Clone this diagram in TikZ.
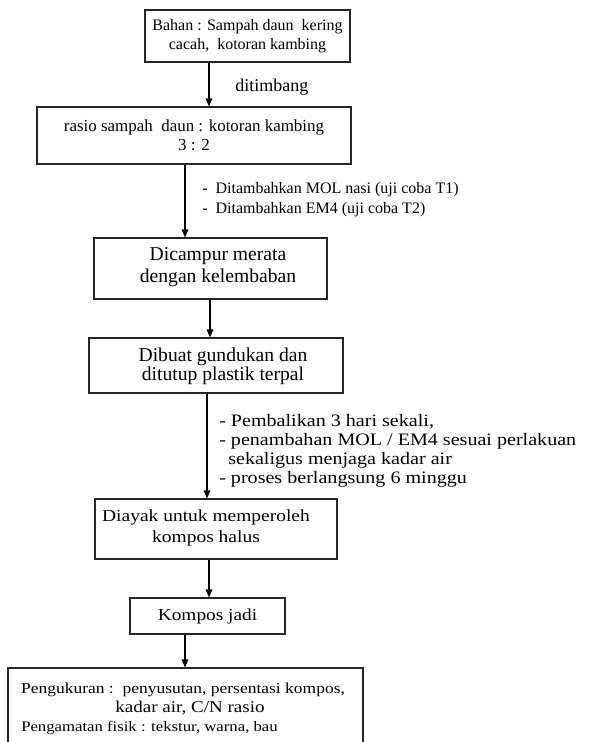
\documentclass[tikz,border=0pt]{standalone}
\usepackage{fontspec}
\setmainfont{Liberation Serif}
\newfontfamily\pal[FakeStretch=1.15]{Liberation Serif}
\usetikzlibrary{arrows.meta}
\begin{document}
\begin{tikzpicture}[x=0.75pt,y=-0.75pt,
  box/.style={draw=black!85,line width=0.9pt,align=center,inner sep=0pt},
  txt/.style={inner sep=0pt,align=center},
  arr/.style={draw,line width=0.8pt,-{Triangle[length=6pt,width=5pt]}},
  lbl/.style={anchor=base west,inner sep=0pt,font=\fontsize{12}{14.5}\selectfont},
  lblp/.style={anchor=base west,inner sep=0pt,font=\pal\fontsize{13.1}{14.5}\selectfont}]
\useasboundingbox (0,0) rectangle (593,742);
\fill[white] (0,0) rectangle (593,742);
% boxes
\node[box,minimum width=153.75pt,minimum height=39pt,font=\fontsize{12}{14.5}\selectfont] (b1) at (247.5,36) {Bahan : Sampah daun\ \ kering\\cacah,\ \ kotoran kambing};
\node[box,minimum width=235.5pt,minimum height=42.75pt,font=\fontsize{12.7}{14.5}\selectfont] (b2) at (194,135.5) {rasio sampah\ \ daun : kotoran kambing\\3 : 2};
\node[box,minimum width=174.75pt,minimum height=45.75pt] (b3) at (210.5,268.5) {};
\node[txt,font=\fontsize{14.7}{16.5}\selectfont] (b3t) at (218,267.5) {Dicampur merata\\dengan kelembaban};
\node[box,minimum width=190.5pt,minimum height=41.25pt] (b4) at (216,365.5) {};
\node[txt,font=\fontsize{14.7}{14.3}\selectfont] (b4t) at (223,366) {Dibuat gundukan dan\\ditutup plastik terpal};
\node[box,minimum width=181.5pt,minimum height=45pt] (b5) at (216,529) {};
\node[txt,font=\pal\fontsize{12.7}{15.75}\selectfont] (b5t) at (206,528) {Diayak untuk memperoleh\\kompos halus};
\node[box,minimum width=116.25pt,minimum height=27pt,font=\pal\fontsize{12.6}{14.5}\selectfont] (b6) at (207.5,616) {Kompos jadi};
\node[box,minimum width=266.25pt,minimum height=69pt] (b7) at (185.5,714) {};
\node[txt,font=\pal\fontsize{11.4}{14.5}\selectfont] (b7a) at (183,690) {Pengukuran :\ \ penyusutan, persentasi kompos,};
\node[txt,font=\pal\fontsize{12.4}{14.5}\selectfont] (b7b) at (190,708) {kadar air, C/N rasio};
\node[anchor=base west,inner sep=0pt,font=\pal\fontsize{10.9}{14.5}\selectfont] (b7c) at (21,731) {Pengamatan fisik : tekstur, warna, bau};
% arrows
\draw[arr] (b1.south -| 209,0) -- (b2.north -| 209,0);
\draw[arr] (b2.south -| 185,0) -- (b3.north -| 185,0);
\draw[arr] (b3.south -| 210,0) -- (b4.north -| 210,0);
\draw[arr] (b4.south -| 207,0) -- (b5.north -| 207,0);
\draw[arr] (b5.south -| 209,0) -- (b6.north -| 209,0);
\draw[arr] (b6.south -| 185,0) -- (b7.north -| 185,0);
% labels
\node[lbl,font=\fontsize{13.5}{14.5}\selectfont] (l1) at (235,91) {ditimbang};
\node[lbl] (l2a) at (202,193) {-\ \ Ditambahkan MOL nasi (uji coba T1)};
\node[lbl] (l2b) at (202,213) {-\ \ Ditambahkan EM4 (uji coba T2)};
\node[lblp] (l4a) at (219,426) {- Pembalikan 3 hari sekali,};
\node[lblp] (l4b) at (219,445) {- penambahan MOL / EM4 sesuai perlakuan};
\node[lblp] (l4c) at (228,464) {sekaligus menjaga kadar air};
\node[lblp] (l4d) at (219,483) {- proses berlangsung 6 minggu};
\end{tikzpicture}
\end{document}
